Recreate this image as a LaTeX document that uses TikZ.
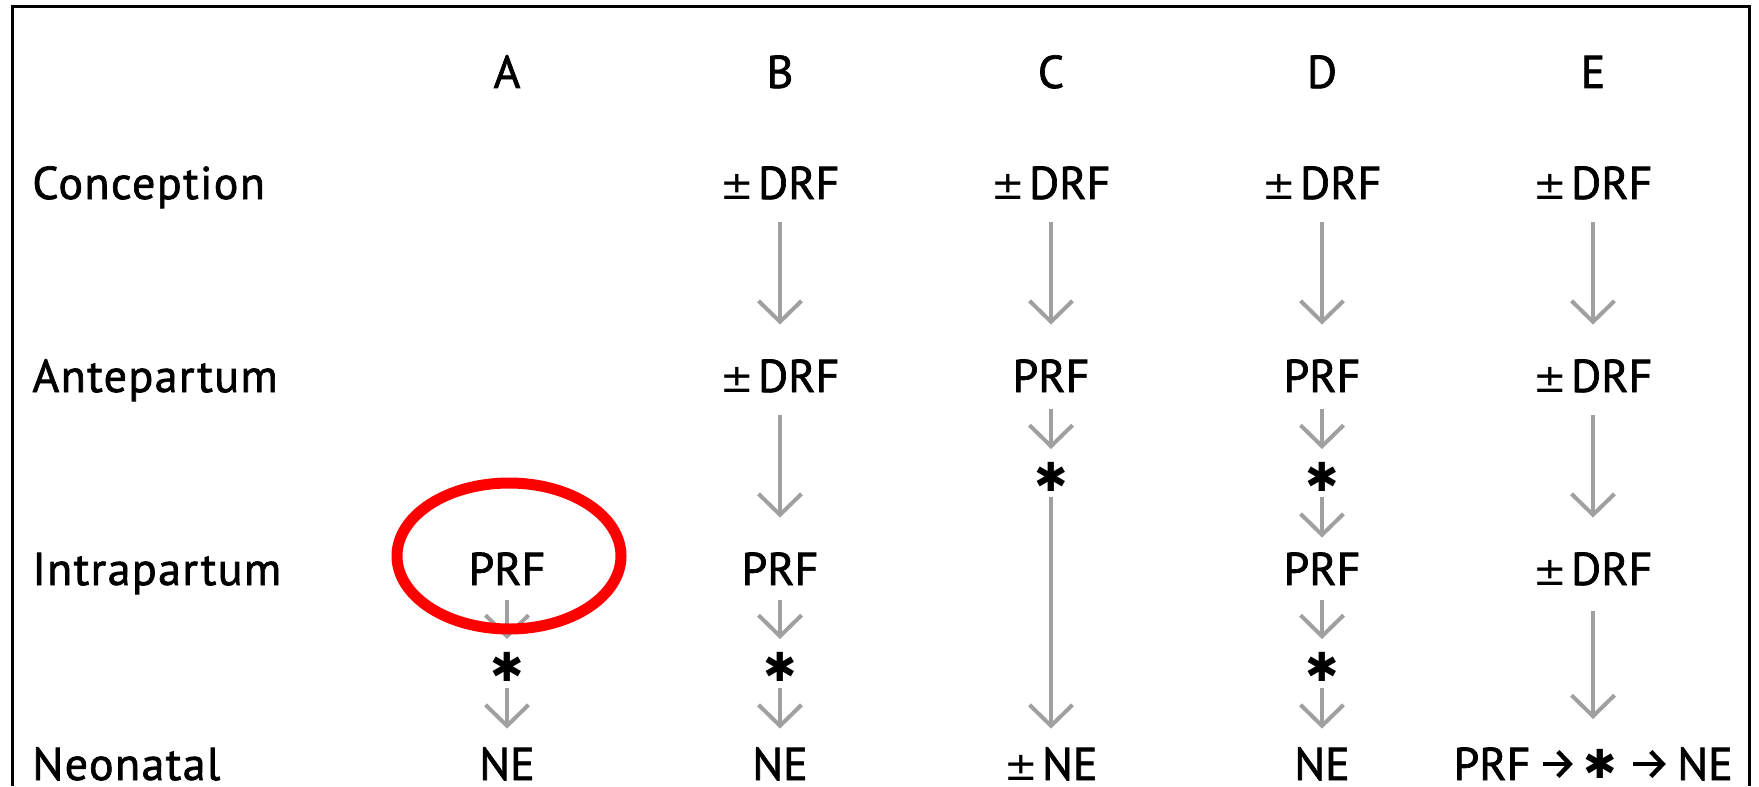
\documentclass[tikz,border=0pt]{standalone}
\usepackage{fontspec}
\setmainfont[FakeBold=1.5]{PT Sans}
\newfontfamily\symfont{DejaVu Sans}
\newfontfamily\rowfont[LetterSpace=3,FakeBold=1.5]{PT Sans}
\usetikzlibrary{arrows.meta,shapes.geometric}
\definecolor{arrowgray}{RGB}{160,160,160}
\definecolor{ringred}{RGB}{255,0,0}
% plus-minus sign before a label, set on the baseline
\newcommand\pmlead{{\symfont\fontsize{20}{20}\selectfont ±}\hspace{2pt}}

\begin{document}
\begin{tikzpicture}[x=0.5pt,y=-0.5pt,
  lbl/.style={font=\fontsize{23}{26}\selectfont, inner sep=0pt,
              text height=16pt, text depth=0pt, anchor=base},
  rowlbl/.style={lbl, font=\rowfont\fontsize{23}{26}\selectfont, anchor=base west},
  hit/.style={font=\symfont\fontsize{20}{20}\selectfont, inner sep=0pt},
  flow/.style={draw=arrowgray, line width=2pt,
               -{Straight Barb[length=10.5pt,width=21.5pt]}},
  longflow/.style={flow, shorten <=11.5pt, shorten >=17.5pt},
  bflow/.style={draw=black, line width=2.2pt,
                -{Straight Barb[length=6pt,width=12.5pt]}},
]
\useasboundingbox (0,0) rectangle (1759,786);

% frame (open at the bottom)
\draw[line width=1.5pt] (12.5,786) -- (12.5,7) -- (1749,7) -- (1749,786);

% column headers
\node[lbl] (hA) at (507,88)  {A};
\node[lbl] (hB) at (780,88)  {B};
\node[lbl] (hC) at (1051,88) {C};
\node[lbl] (hD) at (1322,88) {D};
\node[lbl] (hE) at (1593,88) {E};

% row labels
\node[rowlbl] (rConc)  at (32,199) {Conception};
\node[rowlbl] (rAnte)  at (32,392) {Antepartum};
\node[rowlbl] (rIntra) at (32,585) {Intrapartum};
\node[rowlbl] (rNeo)   at (32,780) {Neonatal};

% column A
\node[lbl] (a3)  at (507,585) {PRF};
\node[hit] (a3s) at (507,667) {✱};
\node[lbl] (a4)  at (507,780) {NE};

% column B
\node[lbl] (b1)  at (780,199) {\pmlead DRF};
\node[lbl] (b2)  at (780,392) {\pmlead DRF};
\node[lbl] (b3)  at (780,585) {PRF};
\node[hit] (b3s) at (780,667) {✱};
\node[lbl] (b4)  at (780,780) {NE};

% column C
\node[lbl] (c1)  at (1051,199) {\pmlead DRF};
\node[lbl] (c2)  at (1051,392) {PRF};
\node[hit] (c2s) at (1051,477) {✱};
\node[lbl] (c4)  at (1051,780) {\pmlead NE};

% column D
\node[lbl] (d1)  at (1322,199) {\pmlead DRF};
\node[lbl] (d2)  at (1322,392) {PRF};
\node[hit] (d2s) at (1322,477) {✱};
\node[lbl] (d3)  at (1322,585) {PRF};
\node[hit] (d3s) at (1322,667) {✱};
\node[lbl] (d4)  at (1322,780) {NE};

% column E
\node[lbl] (e1)  at (1593,199) {\pmlead DRF};
\node[lbl] (e2)  at (1593,392) {\pmlead DRF};
\node[lbl] (e3)  at (1593,585) {\pmlead DRF};
\node[lbl] (eprf)  at (1492,780) {PRF};
\node[hit] (estar) at (1600,764) {✱};
\node[lbl] (ene)   at (1705,780) {NE};

% conception -> antepartum
\draw[longflow] (b1.south) -- (b2.north);
\draw[longflow] (c1.south) -- (c2.north);
\draw[longflow] (d1.south) -- (d2.north);
\draw[longflow] (e1.south) -- (e2.north);

% antepartum -> intrapartum
\draw[longflow] (b2.south) -- (b3.north);
\draw[longflow] (e2.south) -- (e3.north);
\draw[flow, shorten <=8.5pt, shorten >=6.5pt] (c2.south) -- (c2s.north);
\draw[flow, shorten <=8.5pt, shorten >=6.5pt] (d2.south) -- (d2s.north);
\draw[flow, shorten <=2.5pt, shorten >=7.5pt] (d2s.south) -- (d3.north);

% intrapartum -> neonatal
\draw[flow, shorten <=7.5pt, shorten >=6.5pt] (a3.south) -- (a3s.north);
\draw[flow, shorten <=3pt, shorten >=9.5pt] (a3s.south) -- (a4.north);
\draw[flow, shorten <=7.5pt, shorten >=6.5pt] (b3.south) -- (b3s.north);
\draw[flow, shorten <=3pt, shorten >=9.5pt] (b3s.south) -- (b4.north);
\draw[flow, shorten <=2.5pt, shorten >=9.5pt] (c2s.south) -- (c4.north);
\draw[flow, shorten <=7.5pt, shorten >=6.5pt] (d3.south) -- (d3s.north);
\draw[flow, shorten <=3pt, shorten >=9.5pt] (d3s.south) -- (d4.north);
\draw[flow, shorten <=13pt, shorten >=15pt] (e3.south) -- (e3.south |- estar.north);

% inline sequence in the neonatal row of column E
\draw[bflow, shorten <=6pt, shorten >=5pt] (eprf.east |- estar) -- (estar.west);
\draw[bflow, shorten <=8pt, shorten >=5.5pt] (estar.east) -- (ene.west |- estar);

% highlight ring round the intrapartum PRF of column A
\node[ellipse, draw=ringred, line width=5.5pt, inner sep=0pt,
      minimum width=112pt, minimum height=73pt] (ring) at (509,556) {};
\end{tikzpicture}
\end{document}
